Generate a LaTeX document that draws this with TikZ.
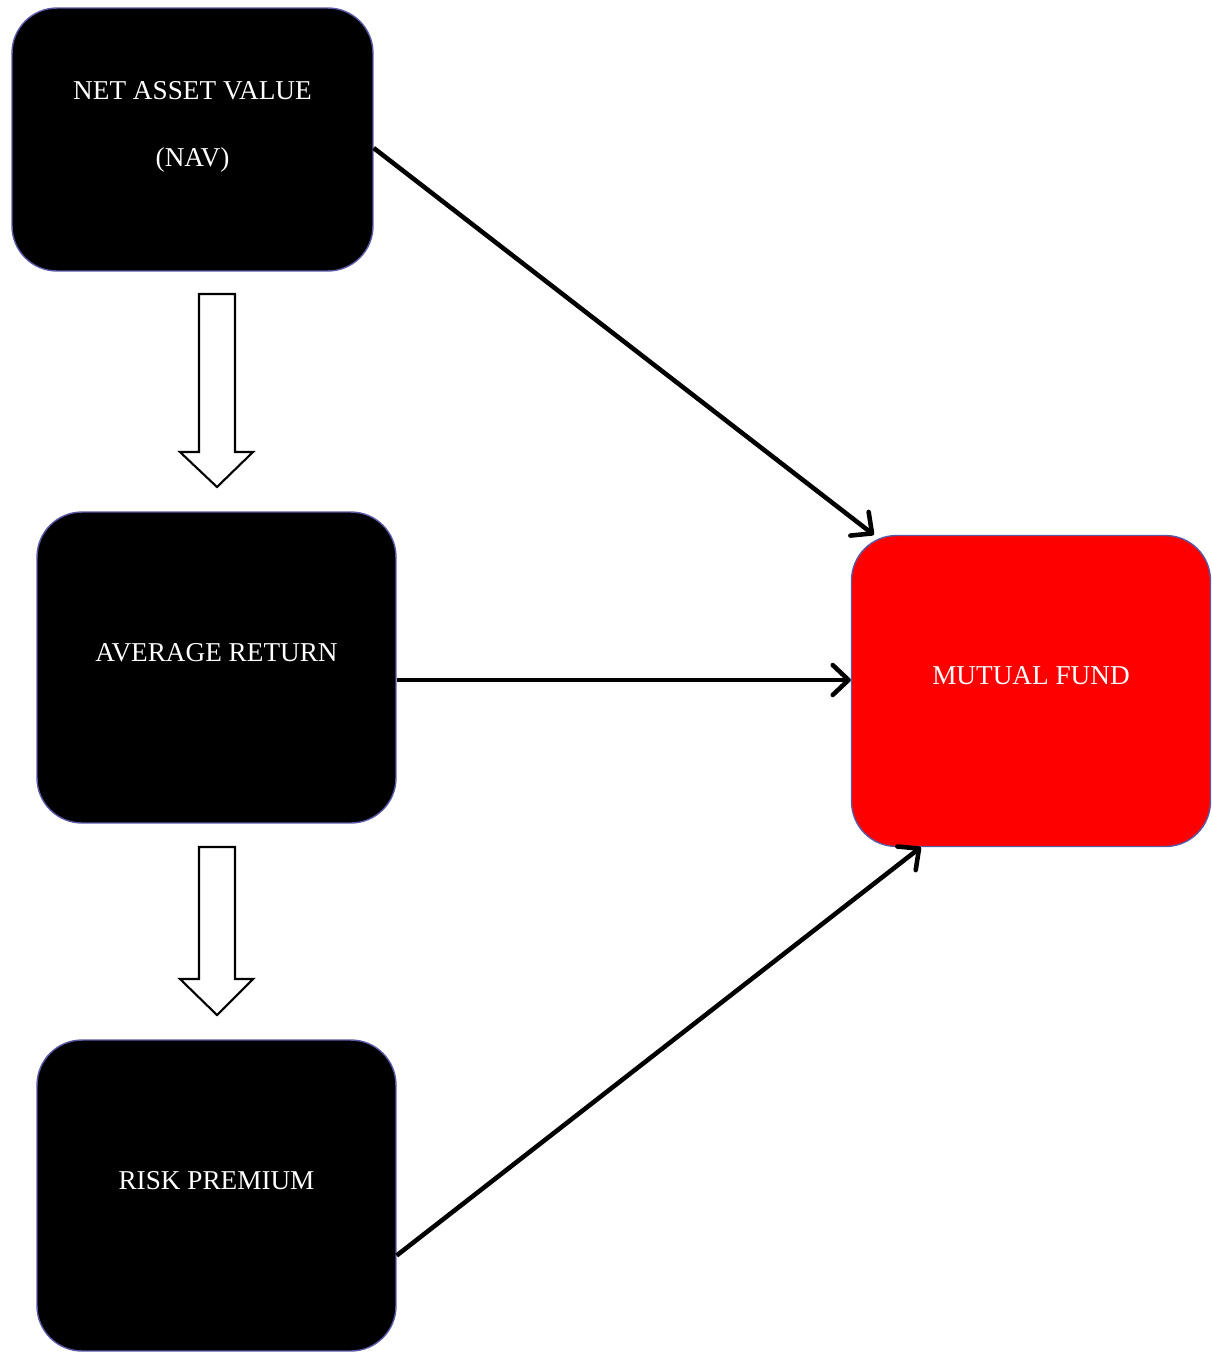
\documentclass[tikz,border=0pt]{standalone}
\usepackage{fontspec}
\setmainfont{Liberation Serif}
\usetikzlibrary{arrows.meta, positioning, calc}

\begin{document}
\begin{tikzpicture}[
        x=0.02cm, y=-0.02cm,
        darkBox/.style={
            rectangle, rounded corners=0.9cm, draw=blue!30!gray, line width=0.8pt,
            fill=black, minimum width=7.18cm, minimum height=6.22cm, inner sep=0pt
        },
        fundBox/.style={
            darkBox, fill=red
        },
        boxText/.style={
            text=white, align=center, font=\fontsize{15.5}{38}\selectfont
        },
        blockArrow/.style={
            draw=black, line width=1.2pt, fill=white, line join=miter
        },
        arrow/.style={
            line width=2.6pt, -{Straight Barb[length=9pt, width=17pt, line cap=round, line join=round]}
        }
    ]
        \useasboundingbox (0,0) rectangle (1212,1353);

        % Boxes
        \node (nav) [darkBox, minimum height=5.26cm, minimum width=7.22cm] at (192.5,139.5) {};
        \node (avg) [darkBox] at (216.5,667.5) {};
        \node (risk) [darkBox] at (216.5,1195.5) {};
        \node (fund) [fundBox] at (1031,691) {};

        % Box texts
        \node (navText) [boxText] at ([yshift=0.26cm]nav.center) {NET ASSET VALUE\\(NAV)};
        \node (avgText) [boxText] at ([yshift=0.3cm]avg.center) {AVERAGE RETURN};
        \node (riskText) [boxText] at ([yshift=0.3cm]risk.center) {RISK PREMIUM};
        \node (fundText) [boxText] at ([yshift=0.3cm]fund.center) {MUTUAL FUND};

        % Hollow block arrows between the boxes
        \foreach \top/\base/\tip in {294/452/487, 847/979/1015}
            \draw [blockArrow] (199,\top) -- (235,\top) -- (235,\base) -- (253,\base)
                -- (217,\tip) -- (180,\base) -- (199,\base) -- cycle;

        % Connectors to the fund
        \draw [arrow] ([yshift=-0.17cm]nav.east) -- ([xshift=0.46cm]fund.north west);
        \draw [arrow] ([yshift=-0.25cm]avg.east) -- ([yshift=-0.25cm]avg.east -| fund.west);
        \draw [arrow] ([yshift=-1.2cm]risk.east) -- ([xshift=1.4cm]fund.south west);
    \end{tikzpicture}
\end{document}
